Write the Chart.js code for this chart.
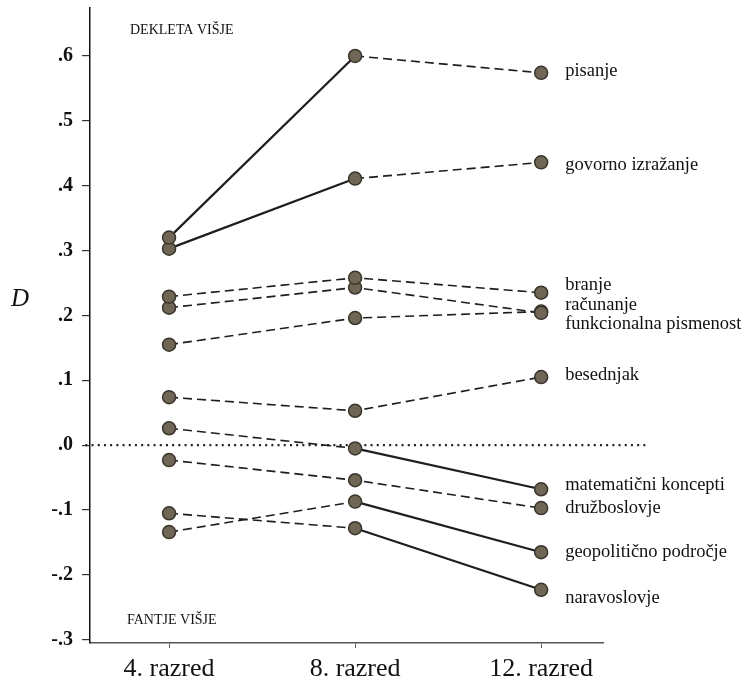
<!DOCTYPE html>
<html>
<head>
<meta charset="utf-8">
<script src="https://cdn.jsdelivr.net/npm/chart.js@4/dist/chart.umd.min.js"></script>
<style>
  html, body { margin: 0; padding: 0; background: #fff; }
  #platno { display: block; }
</style>
</head>
<body>
<div style="width:746px;height:683px"><canvas id="platno" width="746" height="683"></canvas></div>
<script>
const razredi = ['4. razred', '8. razred', '12. razred'];
const leta = [4, 8, 12];

const podrocja = [
  'pisanje', 'govorno izražanje', 'branje', 'računanje', 'funkcionalna pismenost',
  'besednjak', 'matematični koncepti', 'družboslovje', 'geopolitično področje', 'naravoslovje',
];

// razlike D za 4., 8. in 12. razred
const pisanje = [0.320, 0.600, 0.574];
const govorno = [0.303, 0.411, 0.436];
const branje = [0.229, 0.258, 0.235];
const racunanje = [0.212, 0.243, 0.204];
const funkcionalna = [0.155, 0.196, 0.206];
const besednjak = [0.074, 0.053, 0.105];
const matematicni = [0.026, -0.005, -0.068];
const druzboslovje = [-0.023, -0.054, -0.097];
const geopoliticno = [-0.134, -0.087, -0.165];
const naravoslovje = [-0.105, -0.128, -0.223];

// vrsta crte med zaporednima tockama: p = polna, c = crtkana
const crte = [
  ['p', 'c'], ['p', 'c'], ['c', 'c'], ['c', 'c'], ['c', 'c'],
  ['c', 'c'], ['c', 'p'], ['c', 'c'], ['c', 'p'], ['c', 'p'],
];

const yOznake = [-0.3, -0.2, -0.1, 0, 0.1, 0.2, 0.3, 0.4, 0.5, 0.6];

const vrednosti = [pisanje, govorno, branje, racunanje, funkcionalna,
  besednjak, matematicni, druzboslovje, geopoliticno, naravoslovje];

// navpicni zamik napisov ob zadnji tocki
const zamikNapisov = [-2, 3, -8, -8, 13, -2, -4, 0, 0, 8];

const pisava = '"Liberation Serif", "DejaVu Serif", serif';

const naboriPodatkov = vrednosti.map((niz, i) => ({
  label: podrocja[i],
  data: niz.map((v, j) => ({ x: leta[j], y: v })),
  borderColor: '#1e1e1e',
  pointBackgroundColor: '#6f6656',
  pointBorderColor: '#3a352c',
  pointBorderWidth: 1.5,
  pointRadius: 6.5,
  tension: 0,
  segment: {
    borderDash: (ctx) => (crte[i][ctx.p0DataIndex] === 'p' ? [] : [9, 5]),
    borderWidth: (ctx) => (crte[i][ctx.p0DataIndex] === 'p' ? 2.2 : 1.6),
  },
}));

const nicelnaCrta = {
  label: 'nic',
  data: [{ x: 2.2, y: 0 }, { x: 14.3, y: 0 }],
  borderColor: '#222',
  borderWidth: 2.2,
  borderDash: [2, 4.2],
  pointRadius: 0,
  clip: false,
  order: 20,
};

const napisi = {
  id: 'napisi',
  afterDatasetsDraw(chart) {
    const { ctx, chartArea, scales } = chart;
    ctx.save();
    ctx.fillStyle = '#111';
    ctx.textBaseline = 'middle';
    ctx.textAlign = 'left';
    ctx.font = `18.5px ${pisava}`;
    podrocja.forEach((ime, i) => {
      const tocka = chart.getDatasetMeta(i).data[2];
      ctx.fillText(ime, tocka.x + 24, tocka.y + zamikNapisov[i]);
    });
    ctx.font = `14px ${pisava}`;
    ctx.fillText('DEKLETA VIŠJE', chartArea.left + 40, chartArea.top + 22);
    ctx.fillText('FANTJE VIŠJE', chartArea.left + 37, chartArea.bottom - 23);
    ctx.font = `italic 25px ${pisava}`;
    ctx.textAlign = 'center';
    ctx.fillText('D', 20, scales.y.getPixelForValue(0.225));
    ctx.restore();
  },
};

new Chart(document.getElementById('platno'), {
  type: 'line',
  data: { datasets: [...naboriPodatkov, nicelnaCrta] },
  plugins: [napisi],
  options: {
    responsive: false,
    animation: false,
    layout: { padding: { top: 8, right: 143, left: 0, bottom: 0 } },
    plugins: { legend: { display: false }, tooltip: { enabled: false } },
    scales: {
      x: {
        type: 'linear',
        min: 2.3,
        max: 13.33,
        afterBuildTicks: (os) => { os.ticks = leta.map((v) => ({ value: v })); },
        afterFit: (os) => { os.height = 40; os.paddingLeft = 0; os.paddingRight = 0; },
        ticks: {
          callback: (v) => razredi[leta.indexOf(v)],
          color: '#111',
          font: { family: pisava, size: 26 },
          padding: 6,
          maxRotation: 0,
        },
        grid: { drawOnChartArea: false, tickLength: 5, color: '#666', lineWidth: 1 },
        border: { color: '#555', width: 1.5 },
      },
      y: {
        min: -0.305,
        max: 0.674,
        afterBuildTicks: (os) => { os.ticks = yOznake.map((v) => ({ value: v })); },
        afterFit: (os) => { os.width = 90; os.paddingTop = 0; os.paddingBottom = 0; },
        ticks: {
          callback: (v) => v.toFixed(1).replace('0.', '.'),
          color: '#111',
          font: { family: pisava, size: 20, weight: 'bold' },
          padding: 9,
        },
        grid: { drawOnChartArea: false, tickLength: 8, color: '#333', lineWidth: 1.2 },
        border: { color: '#111', width: 1.5 },
      },
    },
  },
});
</script>
</body>
</html>
